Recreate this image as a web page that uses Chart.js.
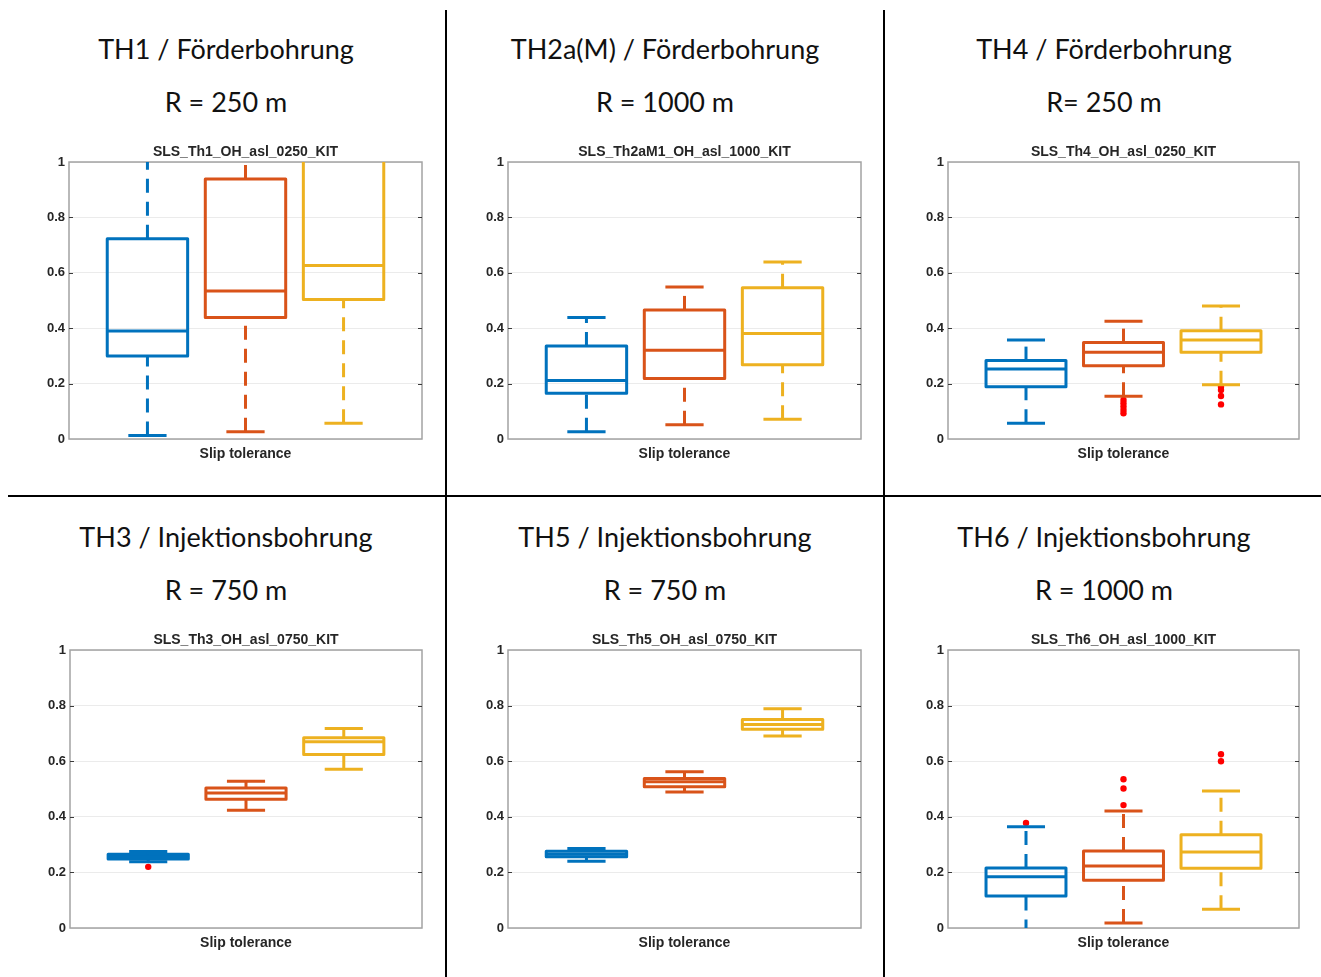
<!DOCTYPE html>
<html>
<head>
<meta charset="utf-8">
<script src="https://cdn.jsdelivr.net/npm/chart.js@4"></script>
<style>
  body { margin: 0; background: #fff; width: 1321px; height: 977px; position: relative; overflow: hidden; }
  .rule { position: absolute; background: #000; }
  .head { position: absolute; width: 440px; text-align: center; font-family: Lato, sans-serif;
          font-size: 27px; color: #111; line-height: 32px; white-space: nowrap; }
  canvas { position: absolute; }
</style>
</head>
<body>
<div class="rule" style="left:445px;top:10px;width:2px;height:967px"></div>
<div class="rule" style="left:883px;top:10px;width:2px;height:967px"></div>
<div class="rule" style="left:8px;top:495px;width:1313px;height:2px"></div>

<script>
// Panel texts
const wellNames = ["TH1 / Förderbohrung", "TH2a(M) / Förderbohrung", "TH4 / Förderbohrung",
                   "TH3 / Injektionsbohrung", "TH5 / Injektionsbohrung", "TH6 / Injektionsbohrung"];
const radii = ["R = 250 m", "R = 1000 m", "R= 250 m", "R = 750 m", "R = 750 m", "R = 1000 m"];
const panelTitles = ["SLS_Th1_OH_asl_0250_KIT", "SLS_Th2aM1_OH_asl_1000_KIT", "SLS_Th4_OH_asl_0250_KIT",
                     "SLS_Th3_OH_asl_0750_KIT", "SLS_Th5_OH_asl_0750_KIT", "SLS_Th6_OH_asl_1000_KIT"];
const xLabel = "Slip tolerance";
const yTicks = [0, 0.2, 0.4, 0.6, 0.8, 1];
const groupColors = ["#0072BD", "#D95319", "#EDB120"];

// Box statistics, one row per panel, one value per group (blue, orange, yellow)
const whiskerLow = [
  [0.013, 0.026, 0.057],
  [0.026, 0.051, 0.071],
  [0.057, 0.154, 0.196],
  [0.238, 0.424, 0.571],
  [0.240, 0.489, 0.691],
  [-0.02, 0.018, 0.067]
];
const q1 = [
  [0.300, 0.439, 0.504],
  [0.165, 0.218, 0.268],
  [0.189, 0.264, 0.313],
  [0.248, 0.463, 0.624],
  [0.256, 0.508, 0.715],
  [0.115, 0.172, 0.215]
];
const median = [
  [0.390, 0.534, 0.626],
  [0.211, 0.320, 0.381],
  [0.253, 0.313, 0.357],
  [0.257, 0.486, 0.670],
  [0.265, 0.526, 0.732],
  [0.184, 0.223, 0.273]
];
const q3 = [
  [0.723, 0.939, 1.05],
  [0.336, 0.466, 0.546],
  [0.283, 0.348, 0.391],
  [0.265, 0.504, 0.684],
  [0.276, 0.538, 0.750],
  [0.216, 0.277, 0.335]
];
const whiskerHigh = [
  [1.05, 1.03, 1.10],
  [0.439, 0.549, 0.639],
  [0.357, 0.425, 0.480],
  [0.275, 0.528, 0.718],
  [0.286, 0.562, 0.789],
  [0.364, 0.421, 0.493]
];
const outliers = [
  [[], [], []],
  [[], [], []],
  [[], [0.141, 0.129, 0.117, 0.105, 0.093], [0.189, 0.177, 0.155, 0.125]],
  [[0.220], [], []],
  [[], [], []],
  [[0.378], [0.535, 0.502, 0.442], [0.625, 0.600]]
];

// Layout of the six panels (page pixels)
const frames = [
  { left: 69, top: 162, right: 422, bottom: 439 },
  { left: 508, top: 162, right: 861, bottom: 439 },
  { left: 948, top: 162, right: 1299, bottom: 439 },
  { left: 70, top: 650, right: 422, bottom: 928 },
  { left: 508, top: 650, right: 861, bottom: 928 },
  { left: 948, top: 650, right: 1299, bottom: 928 }
];
const headCenters = [226, 665, 1104];
const headRows = [{ y1: 49, y2: 102 }, { y1: 537, y2: 590 }];

const BOX_HALF = 0.41;
const CAP_HALF = 0.195;
const AXIS_W = 69;
const TITLE_H = 22;
const XAXIS_H = 30;
const titleFont = { family: "'Liberation Sans', Arial, sans-serif", size: 14, weight: "bold" };
const tickFont = { family: "'Liberation Sans', Arial, sans-serif", size: 13, weight: "bold" };

const framePlugin = {
  id: "frame",
  beforeDatasetsDraw(chart) {
    const { ctx, chartArea: a, scales } = chart;
    ctx.save();
    ctx.strokeStyle = "#a3a3a3";
    ctx.lineWidth = 1.5;
    ctx.strokeRect(a.left, a.top, a.right - a.left, a.bottom - a.top);
    ctx.strokeStyle = "#3a3a3a";
    ctx.lineWidth = 1;
    scales.y.ticks.forEach((t) => {
      if (t.value <= 0 || t.value >= 1) return;
      const py = Math.round(scales.y.getPixelForValue(t.value)) + 0.5;
      ctx.beginPath();
      ctx.moveTo(a.left, py); ctx.lineTo(a.left + 4, py);
      ctx.moveTo(a.right - 4, py); ctx.lineTo(a.right, py);
      ctx.stroke();
    });
    ctx.restore();
  }
};

function seg(points, color, dashed) {
  return {
    type: "scatter",
    data: points,
    showLine: true,
    borderColor: color,
    borderWidth: 3,
    borderDash: dashed ? [14, 9] : [],
    borderCapStyle: "butt",
    borderJoinStyle: "round",
    pointRadius: 0,
    fill: false,
    clip: 0
  };
}

function buildDatasets(p) {
  const sets = [];
  groupColors.forEach((color, g) => {
    const x = g + 1;
    // whiskers
    sets.push(seg([{ x: x, y: whiskerLow[p][g] }, { x: x, y: q1[p][g] }], color, true));
    sets.push(seg([{ x: x, y: q3[p][g] }, { x: x, y: whiskerHigh[p][g] }], color, true));
    // caps
    sets.push(seg([{ x: x - CAP_HALF, y: whiskerLow[p][g] }, { x: x + CAP_HALF, y: whiskerLow[p][g] }], color, false));
    sets.push(seg([{ x: x - CAP_HALF, y: whiskerHigh[p][g] }, { x: x + CAP_HALF, y: whiskerHigh[p][g] }], color, false));
    // box
    sets.push(seg([
      { x: x - BOX_HALF, y: q1[p][g] }, { x: x + BOX_HALF, y: q1[p][g] },
      { x: x + BOX_HALF, y: q3[p][g] }, { x: x - BOX_HALF, y: q3[p][g] },
      { x: x - BOX_HALF, y: q1[p][g] }
    ], color, false));
    // median
    sets.push(seg([{ x: x - BOX_HALF, y: median[p][g] }, { x: x + BOX_HALF, y: median[p][g] }], color, false));
    // outliers
    sets.push({
      type: "scatter",
      data: outliers[p][g].map((v) => ({ x: x, y: v })),
      showLine: false,
      pointRadius: 3.2,
      pointBackgroundColor: "#ff0000",
      pointBorderWidth: 0,
      clip: 0
    });
  });
  return sets;
}

frames.forEach((f, p) => {
  // headings
  const row = headRows[Math.floor(p / 3)];
  const cx = headCenters[p % 3];
  [[wellNames[p], row.y1], [radii[p], row.y2]].forEach(([txt, y]) => {
    const d = document.createElement("div");
    d.className = "head";
    d.textContent = txt;
    d.style.left = (cx - 220) + "px";
    d.style.top = (y - 16) + "px";
    document.body.appendChild(d);
  });

  const cv = document.createElement("canvas");
  const w = AXIS_W + (f.right - f.left) + 18;
  const h = TITLE_H + (f.bottom - f.top) + XAXIS_H;
  cv.width = w; cv.height = h;
  cv.style.left = (f.left - AXIS_W) + "px";
  cv.style.top = (f.top - TITLE_H) + "px";
  cv.style.width = w + "px"; cv.style.height = h + "px";
  document.body.appendChild(cv);

  new Chart(cv.getContext("2d"), {
    type: "scatter",
    data: { datasets: buildDatasets(p) },
    plugins: [framePlugin],
    options: {
      responsive: false,
      animation: false,
      events: [],
      layout: { padding: { left: 0, right: 18, top: 0, bottom: 0 } },
      plugins: {
        legend: { display: false },
        tooltip: { enabled: false },
        title: { display: false }
      },
      scales: {
        x: {
          type: "linear",
          min: 0.2,
          max: 3.8,
          afterFit: (s) => { s.height = XAXIS_H; },
          ticks: { display: false },
          grid: { display: false, drawTicks: false },
          border: { display: false },
          title: { display: true, text: xLabel, font: titleFont, color: "#262626", padding: { top: 6.6, bottom: 6.6 } }
        },
        top: {
          type: "linear",
          position: "top",
          min: 0.2,
          max: 3.8,
          afterFit: (s) => { s.height = TITLE_H; },
          ticks: { display: false },
          grid: { display: false, drawTicks: false },
          border: { display: false },
          title: { display: true, text: panelTitles[p], font: titleFont, color: "#262626", padding: { top: 3.6, bottom: 2 } }
        },
        y: {
          type: "linear",
          min: 0,
          max: 1,
          afterFit: (s) => { s.width = AXIS_W; },
          afterBuildTicks: (s) => { s.ticks = yTicks.map((v) => ({ value: v })); },
          ticks: { font: tickFont, color: "#262626", padding: 4, callback: (v) => String(v) },
          grid: { color: "#ebebeb", drawTicks: false },
          border: { display: false }
        }
      }
    }
  });
});
</script>
</body>
</html>
